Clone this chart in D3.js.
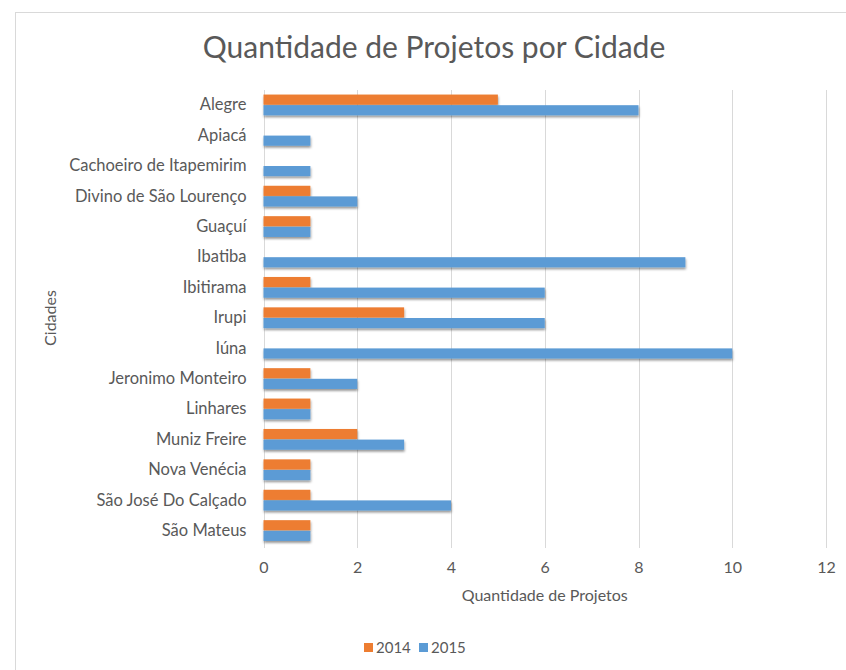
<!DOCTYPE html>
<html>
<head>
<meta charset="utf-8">
<script src="https://cdn.jsdelivr.net/npm/d3@7"></script>
<style>
  body { margin: 0; background: #fff; }
  text { font-family: Lato, "Open Sans", sans-serif; fill: #595959; }
</style>
</head>
<body>
<div id="chart"></div>
<script>
var cidades = ["Alegre", "Apiacá", "Cachoeiro de Itapemirim", "Divino de São Lourenço", "Guaçuí",
    "Ibatiba", "Ibitirama", "Irupi", "Iúna", "Jeronimo Monteiro", "Linhares", "Muniz Freire",
    "Nova Venécia", "São José Do Calçado", "São Mateus"];
var anos = ["2014", "2015"];
var v2014 = [5, 0, 0, 1, 1, 0, 1, 3, 0, 1, 1, 2, 1, 1, 1];
var v2015 = [8, 1, 1, 2, 1, 9, 6, 6, 10, 2, 1, 3, 1, 4, 1];
var xTicks = [0, 2, 4, 6, 8, 10, 12];
var cores = ["#ED7D31", "#5B9BD5"];

var width = 846, height = 670;
var plotLeft = 263.5, plotRight = 826, plotTop = 90, plotBottom = 546;

var rows = cidades.map(function(c, i) {
    return { cidade: c, valores: [v2014[i], v2015[i]] };
});

var svg = d3.select("#chart").append("svg")
    .attr("width", width)
    .attr("height", height);

var defs = svg.append("defs");
var f = defs.append("filter").attr("id", "sombra")
    .attr("x", "-5%").attr("y", "-30%").attr("width", "115%").attr("height", "200%");
f.append("feDropShadow").attr("dx", 0.5).attr("dy", 2).attr("stdDeviation", 1.3)
    .attr("flood-color", "#000").attr("flood-opacity", 0.4);

// chart border
svg.append("rect")
    .attr("x", 15.5).attr("y", 12.5)
    .attr("width", 860).attr("height", 700)
    .attr("fill", "none").attr("stroke", "#d9d9d9");

var x = d3.scaleLinear().domain([0, 12]).range([plotLeft, plotRight]);
var y = d3.scaleBand().domain(cidades).range([plotTop, plotBottom])
    .paddingInner(0.3).paddingOuter(0.15);
var ySub = d3.scaleBand().domain(anos).range([0, y.bandwidth()]);

// grid
svg.append("g").selectAll("line")
    .data(xTicks)
    .enter().append("line")
    .attr("x1", function(d) { return Math.round(x(d)) + 0.5; })
    .attr("x2", function(d) { return Math.round(x(d)) + 0.5; })
    .attr("y1", plotTop).attr("y2", plotBottom + 2)
    .attr("stroke", "#d9d9d9").attr("stroke-width", 1);

// x tick labels
var xAxis = d3.axisBottom(x).tickValues(xTicks).tickSize(0).tickPadding(0);
var gx = svg.append("g")
    .attr("transform", "translate(0," + (plotBottom + 12) + ")")
    .call(xAxis);
gx.select(".domain").remove();
gx.selectAll("text").style("font-size", "16px").attr("dy", "0.95em")
    .style("font-family", "Lato, sans-serif").attr("fill", "#595959");

// y labels
var yAxis = d3.axisLeft(y).tickSize(0).tickPadding(17);
var gy = svg.append("g")
    .attr("transform", "translate(" + plotLeft + ",0)")
    .call(yAxis);
gy.select(".domain").remove();
gy.selectAll("text").style("font-size", "16.5px")
    .style("font-family", "Lato, sans-serif").attr("fill", "#595959");

// bars
var grupos = svg.append("g").selectAll("g")
    .data(rows)
    .enter().append("g")
    .attr("transform", function(d) { return "translate(0," + y(d.cidade) + ")"; });

grupos.selectAll("rect")
    .data(function(d) {
        return d.valores.map(function(v, i) { return { ano: anos[i], v: v, i: i }; })
            .filter(function(e) { return e.v > 0; });
    })
    .enter().append("rect")
    .attr("x", x(0))
    .attr("y", function(d) { return ySub(d.ano); })
    .attr("width", function(d) { return x(d.v) - x(0); })
    .attr("height", ySub.bandwidth() - 0.5)
    .attr("fill", function(d) { return cores[d.i]; })
    .attr("filter", "url(#sombra)");

// title
svg.append("text")
    .attr("x", 434).attr("y", 58)
    .attr("text-anchor", "middle")
    .style("font-size", "30px")
    .text("Quantidade de Projetos por Cidade");

// axis titles
svg.append("text")
    .attr("x", (plotLeft + plotRight) / 2).attr("y", 601)
    .attr("text-anchor", "middle")
    .style("font-size", "16px")
    .text("Quantidade de Projetos");

svg.append("text")
    .attr("transform", "translate(56," + ((plotTop + plotBottom) / 2) + ") rotate(-90)")
    .attr("text-anchor", "middle")
    .style("font-size", "16px")
    .text("Cidades");

// legend
var legX = [364, 419];
var leg = svg.append("g").selectAll("g")
    .data(anos)
    .enter().append("g")
    .attr("transform", function(d, i) { return "translate(" + legX[i] + ",643)"; });
leg.append("rect").attr("width", 9).attr("height", 9)
    .attr("fill", function(d, i) { return cores[i]; });
leg.append("text").attr("x", 12).attr("y", 9.5)
    .style("font-size", "15px")
    .text(function(d) { return d; });
</script>
</body>
</html>
